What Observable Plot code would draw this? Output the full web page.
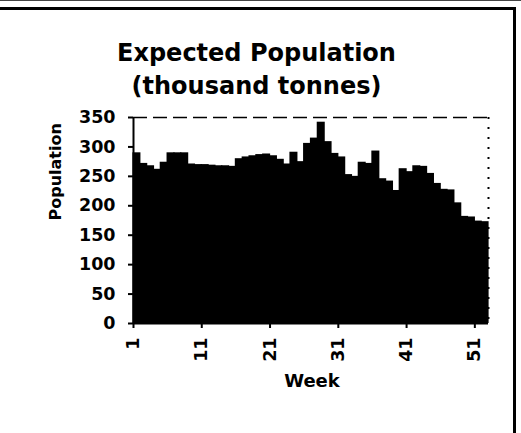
<!DOCTYPE html>
<html><head><meta charset="utf-8">
<script src="https://cdn.jsdelivr.net/npm/d3@7"></script>
<script src="https://cdn.jsdelivr.net/npm/@observablehq/plot@0.6"></script>
<style>
html,body{margin:0;padding:0;background:#fff;}
#wrap{position:relative;width:521px;height:433px;overflow:hidden;font-family:"DejaVu Sans",sans-serif;color:#000;}
#title{height:103px;box-sizing:border-box;padding-top:37px;padding-right:8px;text-align:center;font-weight:bold;font-size:24px;line-height:33px;}
#frame{position:absolute;left:-5px;top:7px;width:521px;height:440px;border-top:3px solid #000;border-right:3px solid #000;box-sizing:border-box;pointer-events:none;}
#thin{position:absolute;left:0;top:0;width:521px;height:1px;background:#444;}
svg{display:block}
</style></head><body>
<div id="wrap">
 <div id="thin"></div>
 <div id="frame"></div>
 <div id="title">Expected Population<br>(thousand tonnes)</div>
 <div id="chart"></div>
</div>
<script>
const weeks = [1,2,3,4,5,6,7,8,9,10,11,12,13,14,15,16,17,18,19,20,21,22,23,24,25,26,
  27,28,29,30,31,32,33,34,35,36,37,38,39,40,41,42,43,44,45,46,47,48,49,50,51,52];
const population = [290,272,268,262,274,290,290,290,271,270,270,269,268,268,267,280,283,285,287,288,285,279,271,291,275,306,
  315,342,309,289,283,253,250,274,272,293,246,242,226,263,258,268,267,255,238,228,227,205,182,181,174,173];
const xTicks = [1,11,21,31,41,51];
const yTicks = [0,50,100,150,200,250,300,350];
const yLabel = "Population";
const xLabel = "Week";

const data = weeks.map((w, i) => ({week: w, next: w + 1, pop: population[i]}));

const chart = Plot.plot({
  width: 521, height: 330,
  marginLeft: 133, marginRight: 33, marginTop: 14, marginBottom: 110,
  style: {fontFamily: "DejaVu Sans", fontWeight: "bold", fontSize: "17.5px", color: "#000", background: "transparent"},
  x: {domain: [1, 53], label: null},
  y: {domain: [0, 350], label: null},
  marks: [
    Plot.rectY(data, {x1: "week", x2: "next", y: "pop", fill: "black", insetLeft: -0.6, insetRight: -0.6}),
    Plot.ruleY([350], {stroke: "black", strokeDasharray: "14,6", strokeWidth: 1.5}),
    Plot.ruleX([53], {stroke: "black", strokeDasharray: "2,8", strokeWidth: 2}),
    Plot.ruleX([1], {stroke: "black", strokeWidth: 2}),
    Plot.ruleY([0], {stroke: "black", strokeWidth: 2}),
    Plot.axisY({ticks: yTicks, tickSize: 5, tickPadding: 13, strokeWidth: 2, label: null}),
    Plot.axisX({ticks: xTicks, tickSize: 5, tickPadding: 9, tickRotate: -90, strokeWidth: 2, label: null, tickFormat: d => String(d)}),
    Plot.text([yLabel], {text: d => d, frameAnchor: "left", rotate: -90, dx: -78, fontSize: 16}),
    Plot.text([xLabel], {text: d => d, frameAnchor: "bottom", dy: 63, dx: 1, fontSize: 18})
  ]
});
document.getElementById("chart").appendChild(chart);
</script>
</body></html>
